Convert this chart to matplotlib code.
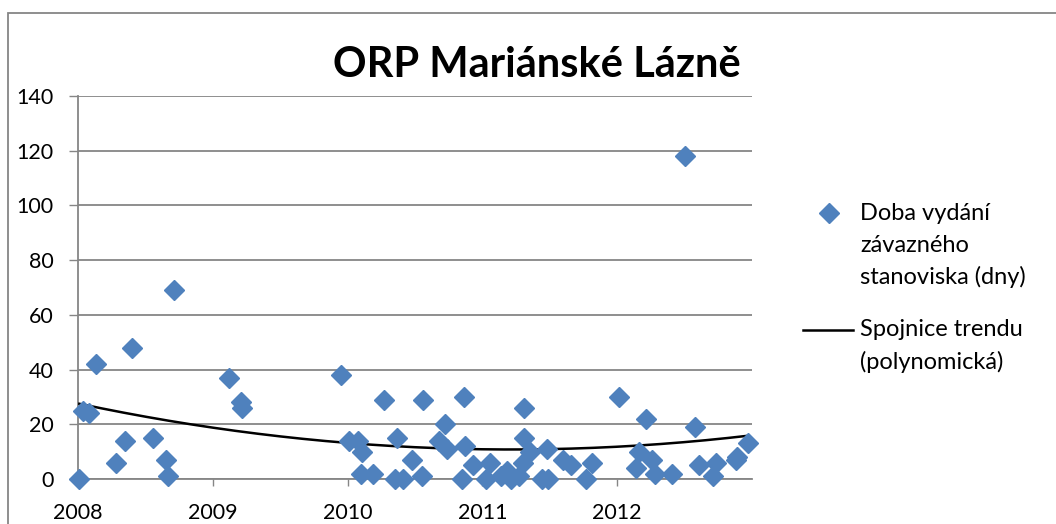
import numpy as np
import matplotlib
matplotlib.use("Agg")
import matplotlib.pyplot as plt
from matplotlib.lines import Line2D
from matplotlib.patches import Rectangle

plt.rcParams['font.family'] = ['Lato', 'DejaVu Sans']

# datum podani (desetinny rok) a doba vydani stanoviska ve dnech
datum = [2008.01, 2008.04, 2008.08, 2008.13, 2008.28, 2008.35, 2008.40, 2008.56,
         2008.65, 2008.67, 2008.71, 2009.12, 2009.21, 2009.22, 2009.95, 2010.01,
         2010.08, 2010.11, 2010.10, 2010.19, 2010.27, 2010.37, 2010.35, 2010.41,
         2010.48, 2010.55, 2010.56, 2010.68, 2010.72, 2010.74, 2010.85, 2010.86,
         2010.87, 2010.93, 2011.03, 2011.06, 2011.14, 2011.18, 2011.21, 2011.27,
         2011.30, 2011.31, 2011.31, 2011.35, 2011.44, 2011.49, 2011.48, 2011.60,
         2011.66, 2011.77, 2011.81, 2012.01, 2012.14, 2012.16, 2012.21, 2012.26,
         2012.28, 2012.41, 2012.50, 2012.58, 2012.61, 2012.71, 2012.73, 2012.88,
         2012.89, 2012.97]
dny = [0, 25, 24, 42, 6, 14, 48, 15,
       7, 1, 69, 37, 28, 26, 38, 14,
       14, 10, 2, 2, 29, 15, 0, 0,
       7, 1, 29, 14, 20, 11, 0, 30,
       12, 5, 0, 6, 1, 3, 0, 1,
       6, 26, 15, 10, 0, 0, 11, 7,
       5, 0, 6, 30, 4, 10, 22, 7,
       2, 2, 118, 19, 5, 1, 6, 7,
       8, 13]
roky = [2008, 2009, 2010, 2011, 2012]
y_ticks = [0, 20, 40, 60, 80, 100, 120, 140]

modra = '#4F81BD'
seda = '#868686'
W, H = 1056, 524

fig = plt.figure(figsize=(W / 100, H / 100), dpi=100)
ax = fig.add_axes([78 / W, 1 - 479 / H, (752 - 78) / W, (479 - 96) / H])

# polynomicka spojnice trendu (2. stupen, jako v Excelu)
koef = np.polyfit(datum, dny, 2)
xs = np.linspace(min(datum), max(datum), 300)
ax.plot(xs, np.polyval(koef, xs), color='black', lw=1.8, zorder=3)

ax.plot(datum, dny, linestyle='none', marker='D', ms=10, color=modra,
        mec=modra, clip_on=False, zorder=4)

ax.set_xlim(2008, 2013)
ax.set_ylim(0, 140)
ax.set_xticks(roky)
ax.set_xticklabels([str(r) for r in roky])
ax.set_yticks(y_ticks)
ax.grid(axis='y', color=seda, lw=1.3)
ax.set_axisbelow(True)
for s in ['top', 'right']:
    ax.spines[s].set_visible(False)
for s in ['left', 'bottom']:
    ax.spines[s].set_color(seda)
    ax.spines[s].set_linewidth(1.3)
ax.tick_params(axis='y', length=6.5, width=1, color=seda, pad=11, labelsize=15.5)
ax.tick_params(axis='x', length=5, width=1, color=seda, pad=12, labelsize=15.5)
ax.xaxis.get_major_ticks()[0].tick1line.set_visible(False)

fig.text(537 / W, 1 - 77 / H, 'ORP Mariánské Lázně', ha='center', va='baseline',
         fontsize=30, fontweight='bold')

# legenda
fig.add_artist(Line2D([829 / W], [1 - 213 / H], marker='D', ms=10, color=modra,
                      linestyle='none', transform=fig.transFigure))
fig.add_artist(Line2D([803 / W, 853 / W], [1 - 330 / H, 1 - 330 / H], color='black',
                      lw=1.8, transform=fig.transFigure))
radky = [('Doba vydání', 213), ('závazného', 245), ('stanoviska (dny)', 277),
         ('Spojnice trendu', 330), ('(polynomická)', 362)]
for txt, yy in radky:
    fig.text(860 / W, 1 - yy / H, txt, ha='left', va='center', fontsize=17)

# ramecek grafu
fig.add_artist(Rectangle((8 / W, -0.1), 1.2, 1.1 - 13 / H, fill=False,
                         edgecolor=seda, lw=1.3, transform=fig.transFigure,
                         clip_on=False))

fig.savefig('out.png', dpi=100)
